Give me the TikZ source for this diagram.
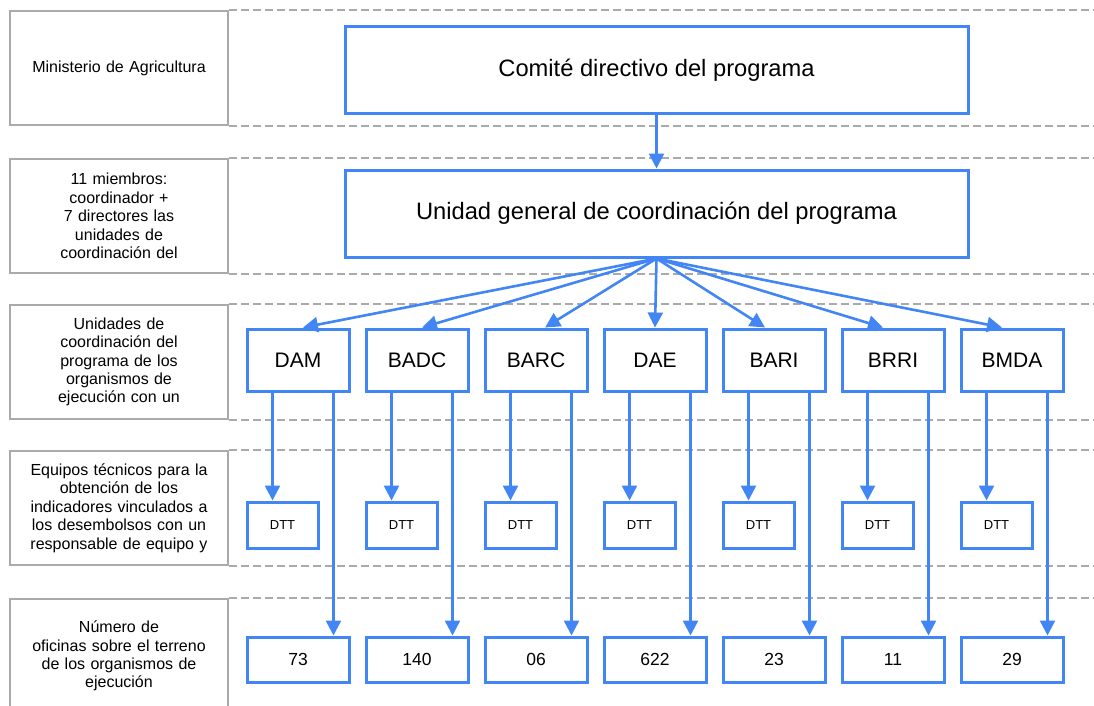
\documentclass[tikz,border=0pt]{standalone}
\usepackage{fontspec}
\setmainfont{Liberation Sans}
\usetikzlibrary{arrows.meta,calc}
\definecolor{myblue}{HTML}{4285F4}
\definecolor{mygray}{HTML}{AAAAAA}
\begin{document}
\begin{tikzpicture}[x=1pt,y=-1pt,
  lbl/.style={draw=mygray,line width=2.7pt,minimum width=218pt,minimum height=114pt,inner sep=0pt,
    align=center,text width=210pt,font=\fontsize{16}{18.4}\selectfont},
  dline/.style={draw=mygray,line width=2.2pt,dash pattern=on 8pt off 4pt},
  bbox/.style={draw=myblue,line width=3pt,fill=white,inner sep=0pt,align=center},
  topbox/.style={bbox,minimum width=623pt,minimum height=87pt,font=\fontsize{23.7}{28}\selectfont},
  orgbox/.style={bbox,minimum width=102pt,minimum height=62pt,font=\fontsize{21}{25}\selectfont},
  dttbox/.style={bbox,minimum width=71pt,minimum height=46pt,font=\fontsize{13}{15}\selectfont},
  numbox/.style={bbox,minimum width=102pt,minimum height=45pt,font=\fontsize{17.5}{20}\selectfont},
  arr/.style={draw=myblue,line width=2.6pt,-{Triangle[length=15pt,width=15pt]}}]
\useasboundingbox (0,0) rectangle (1094,706);
\coordinate (R) at (1094,0);
% left labels
\node[lbl] (lab1) at (119,68) {Ministerio de Agricultura};
\node[lbl] (lab2) at (119,216) {11 miembros:\\coordinador +\\7 directores las\\unidades de\\coordinación del};
\node[lbl] (lab3) at (119,362) {Unidades de\\coordinación del\\programa de los\\organismos de\\ejecución con un};
\node[lbl] (lab4) at (119,508) {Equipos técnicos para la\\obtención de los\\indicadores vinculados a\\los desembolsos con un\\responsable de equipo y};
\node[lbl] (lab5) at (119,656) {Número de\\oficinas sobre el terreno\\de los organismos de\\ejecución};
% dashed row lines
\foreach \l in {lab1,lab2,lab3,lab4,lab5}{
  \draw[dline] (\l.north east) -- (\l.north east -| R);
}
\foreach \l in {lab1,lab2,lab3,lab4}{
  \draw[dline] (\l.south east) -- (\l.south east -| R);
}
% top boxes
\node[topbox] (com) at (656.5,70.5) {Comité directivo del programa};
\node[topbox] (uni) at (656.5,213.5) {Unidad general de coordinación del programa};
\draw[arr] (com.south) -- (uni.north);
% organisations
\foreach \i/\name/\num/\off in {0/DAM/73/5,1/BADC/140/5,2/BARC/06/9,3/DAE/622/0,4/BARI/23/-9,5/BRRI/11/-10,6/BMDA/29/-10}{
  \node[orgbox] (o\i) at (298+119*\i,360) {\name};
  \node[dttbox] (d\i) at (282.5+119*\i,525) {DTT};
  \node[numbox] (n\i) at (298+119*\i,659.5) {\num};
  \draw[arr] (uni.south) -- ([xshift=\off pt]o\i.north);
  \draw[arr] ([xshift=27pt]o\i.south west) -- ([xshift=27pt]d\i.north west);
  \draw[arr] ([xshift=88pt]o\i.south west) -- ([xshift=88pt]n\i.north west);
}
\end{tikzpicture}
\end{document}
